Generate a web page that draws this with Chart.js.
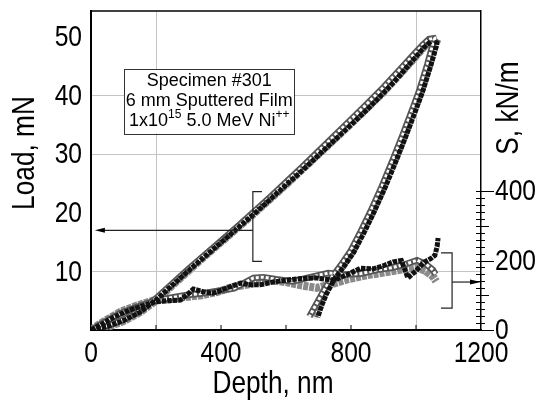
<!DOCTYPE html>
<html>
<head>
<meta charset="utf-8">
<script src="https://cdn.jsdelivr.net/npm/chart.js@4"></script>
<style>
html, body { margin: 0; padding: 0; background: #fff; }
</style>
</head>
<body>
<canvas id="chart" width="543" height="400"></canvas>
<script>
// loading curves (depth nm, load mN) - three overlapping tests
const loadDepthBlack = [0, 20, 50, 100, 150, 200, 250, 300, 350, 400, 450, 500, 550, 600, 650, 700, 750, 800, 850, 900, 950, 1000, 1025, 1045];
const loadForceBlack = [0, 0.2, 0.6, 1.6, 3.0, 5.1, 7.6, 10.1, 12.5, 14.9, 17.3, 19.7, 22.2, 24.7, 27.2, 29.8, 32.4, 35.0, 37.6, 40.4, 43.4, 46.6, 48.2, 49.2];
const loadDepthOpen = [0, 30, 60, 100, 150, 200, 250, 300, 350, 400, 450, 500, 550, 600, 650, 700, 750, 800, 850, 900, 950, 990, 1020, 1040, 1062];
const loadForceOpen = [0, 0.4, 0.9, 1.8, 3.3, 5.4, 7.9, 10.4, 12.8, 15.2, 17.6, 20.1, 22.6, 25.2, 27.8, 30.5, 33.2, 35.9, 38.6, 41.4, 44.4, 46.8, 48.6, 49.6, 49.8];
const loadDepthGray = [0, 25, 60, 100, 150, 200, 250, 300, 350, 400, 450, 500, 550, 600, 650, 700, 750, 800, 850, 900, 950, 1000, 1030, 1050, 1065];
const loadForceGray = [0, 0.2, 0.7, 1.5, 3.0, 5.0, 7.6, 10.1, 12.6, 15.0, 17.4, 19.8, 22.3, 24.8, 27.4, 30.0, 32.6, 35.2, 37.9, 40.6, 43.6, 46.7, 48.6, 49.4, 49.6];

// unloading curves
const unloadDepthBlack = [1065, 1062, 1045, 1020, 1000, 970, 940, 905, 870, 840, 808, 778, 750, 725, 710, 698];
const unloadForceBlack = [49.4, 48.3, 45.0, 40.6, 37.6, 33.2, 29.0, 24.3, 20.0, 16.6, 13.2, 10.8, 8.8, 6.2, 4.2, 2.2];
const unloadDepthOpen = [1058, 1052, 1035, 1010, 990, 960, 930, 895, 860, 830, 798, 768, 740, 712, 692, 672];
const unloadForceOpen = [49.8, 48.8, 45.3, 40.8, 37.8, 33.4, 29.2, 24.5, 20.2, 16.8, 13.4, 11.0, 8.9, 6.3, 4.3, 2.3];
const unloadDepthGray = [1066, 1058, 1040, 1015, 995, 965, 935, 900, 865, 835, 803, 773, 745, 718, 700, 685];
const unloadForceGray = [49.6, 48.5, 45.1, 40.7, 37.7, 33.3, 29.1, 24.4, 20.1, 16.7, 13.3, 10.9, 8.8, 6.2, 4.2, 2.1];

// stiffness curves (depth nm, S kN/m)
const stiffDepthBlack = [0, 30, 70, 120, 160, 195, 230, 275, 300, 315, 345, 375, 410, 460, 490, 520, 560, 605, 645, 690, 720, 750, 790, 830, 868, 900, 930, 955, 975, 1000, 1025, 1045, 1058, 1065, 1068];
const stiffBlack = [0, 15, 37, 58, 70, 81, 84, 86, 105, 118, 110, 106, 118, 135, 130, 130, 138, 144, 148, 150, 146, 144, 160, 178, 176, 185, 196, 200, 150, 170, 195, 205, 215, 240, 265];
const stiffDepthOpen = [0, 40, 90, 140, 190, 240, 290, 340, 390, 440, 470, 500, 530, 570, 620, 675, 730, 780, 830, 880, 930, 970, 1003, 1030, 1052, 1060];
const stiffOpen = [0, 22, 48, 66, 82, 92, 100, 105, 112, 120, 135, 150, 152, 146, 140, 152, 164, 160, 162, 173, 180, 190, 201, 190, 173, 160];
const stiffDepthGray = [0, 40, 90, 140, 190, 240, 290, 340, 390, 437, 490, 542, 600, 650, 695, 740, 790, 851, 900, 951, 1000, 1030, 1053, 1062];
const stiffGray = [0, 25, 52, 70, 84, 88, 95, 100, 110, 124, 132, 144, 138, 128, 121, 132, 146, 158, 165, 173, 180, 170, 153, 140];

const depthTicks = [0, 200, 400, 600, 800, 1000, 1200];
const depthLabels = ["0", "", "400", "", "800", "", "1200"];
const loadTicks = [0, 10, 20, 30, 40, 50];
const loadLabels = ["", "10", "20", "30", "40", "50"];
const stiffTicks = [0, 200, 400];
const stiffLabels = ["0", "200", "400"];
const loadGridLines = [10, 30, 40];
const depthGridLines = [200, 1000];
const sLabelTop = 400;

const specimenLines = ["Specimen #301", "6 mm Sputtered Film"];

const REGULAR = '"Liberation Sans", Arial, sans-serif';
const SQUEEZE = 0.82; // the scan's type is a narrow Helvetica

function pts(xs, ys) {
    return xs.map((v, i) => ({ x: v, y: ys[i] }));
}

function gray(xs, ys, axis) {
    return { data: pts(xs, ys), yAxisID: axis, borderColor: "#8a8a8a", borderWidth: 8, borderDash: [5, 1], order: 4 };
}
function openOutline(xs, ys, axis) {
    return { data: pts(xs, ys), yAxisID: axis, borderColor: "#555", borderWidth: 6.5, order: 3 };
}
function openFill(xs, ys, axis) {
    return { data: pts(xs, ys), yAxisID: axis, borderColor: "#fff", borderWidth: 3, borderDash: [3, 2], order: 2 };
}
function black(xs, ys, axis) {
    return { data: pts(xs, ys), yAxisID: axis, borderColor: "#111", borderWidth: 5, borderDash: [4.5, 1], order: 1 };
}

const datasets = [
    gray(loadDepthGray, loadForceGray, "y"),
    gray(unloadDepthGray, unloadForceGray, "y"),
    gray(stiffDepthGray, stiffGray, "y2"),
    openOutline(loadDepthOpen, loadForceOpen, "y"),
    openOutline(unloadDepthOpen, unloadForceOpen, "y"),
    openOutline(stiffDepthOpen, stiffOpen, "y2"),
    openFill(loadDepthOpen, loadForceOpen, "y"),
    openFill(unloadDepthOpen, unloadForceOpen, "y"),
    openFill(stiffDepthOpen, stiffOpen, "y2"),
    black(loadDepthBlack, loadForceBlack, "y"),
    black(unloadDepthBlack, unloadForceBlack, "y"),
    black(stiffDepthBlack, stiffBlack, "y2"),
];
datasets.forEach((d) => {
    d.showLine = true;
    d.pointRadius = 0;
    d.tension = 0;
    d.fill = false;
});

function line(ctx, x1, y1, x2, y2) {
    ctx.beginPath();
    ctx.moveTo(x1, y1);
    ctx.lineTo(x2, y2);
    ctx.stroke();
}

// narrow text: regular font squeezed horizontally
function narrowText(ctx, text, x, y, align, size, rotate) {
    ctx.save();
    ctx.translate(x, y);
    if (rotate) ctx.rotate(-Math.PI / 2);
    ctx.scale(SQUEEZE, 1);
    ctx.font = size + "px " + REGULAR;
    ctx.textAlign = align;
    ctx.textBaseline = "middle";
    ctx.fillText(text, 0, 0);
    ctx.restore();
}

const decor = {
    id: "decor",
    afterDraw(chart) {
        const { ctx, chartArea: a } = chart;
        const x = chart.scales.x, y = chart.scales.y, y2 = chart.scales.y2;
        ctx.save();
        ctx.strokeStyle = "#000";
        ctx.fillStyle = "#000";

        // top frame
        ctx.lineWidth = 1.5;
        line(ctx, a.left, a.top, a.right, a.top);

        // inner tick marks on depth axis
        ctx.lineWidth = 1;
        depthTicks.forEach((v) => {
            if (v === 0 || v === 1200) return;
            const px = x.getPixelForValue(v);
            line(ctx, px, a.bottom, px, a.bottom - 5);
        });

        // stiffness axis ticks
        const ax = a.right;
        for (let v = 0; v <= sLabelTop; v += 20) {
            const py = Math.round(y2.getPixelForValue(v)) + 0.5;
            let len = 4;
            if (v % 200 === 0) len = 13;
            else if (v % 100 === 0) len = 8;
            line(ctx, ax - 5, py, ax + len, py);
        }

        // tick labels
        depthTicks.forEach((v, i) => narrowText(ctx, depthLabels[i], x.getPixelForValue(v), a.bottom + 24, "center", 30));
        loadTicks.forEach((v, i) => narrowText(ctx, loadLabels[i], a.left - 9, y.getPixelForValue(v) + 1, "right", 30));
        stiffTicks.forEach((v, i) => narrowText(ctx, stiffLabels[i], a.right + 14, y2.getPixelForValue(v) + 1, "left", 30));

        // axis titles
        narrowText(ctx, "Depth, nm", 273, 384, "center", 32);
        narrowText(ctx, "Load, mN", 25, 153, "center", 32, true);
        narrowText(ctx, "S, kN/m", 509, 108, "center", 32, true);

        // left bracket + arrow
        ctx.lineWidth = 1.2;
        ctx.strokeStyle = "#222";
        const bx = x.getPixelForValue(498), btx = x.getPixelForValue(526);
        const bt = y.getPixelForValue(23.6), bb = y.getPixelForValue(11.7);
        ctx.beginPath();
        ctx.moveTo(btx, bt); ctx.lineTo(bx, bt); ctx.lineTo(bx, bb); ctx.lineTo(btx, bb);
        ctx.stroke();
        const ay = y.getPixelForValue(17.0);
        const aEnd = x.getPixelForValue(12);
        line(ctx, bx, ay, aEnd + 8, ay);
        ctx.beginPath();
        ctx.moveTo(aEnd, ay); ctx.lineTo(aEnd + 10, ay - 2.5); ctx.lineTo(aEnd + 10, ay + 2.5); ctx.closePath();
        ctx.fill();

        // right bracket + arrow
        const rx = x.getPixelForValue(1111), rtx = x.getPixelForValue(1077);
        const rt = y2.getPixelForValue(222), rb = y2.getPixelForValue(63);
        ctx.beginPath();
        ctx.moveTo(rtx, rt); ctx.lineTo(rx, rt); ctx.lineTo(rx, rb); ctx.lineTo(rtx, rb);
        ctx.stroke();
        const ry = y2.getPixelForValue(138);
        line(ctx, rx, ry, ax - 8, ry);
        ctx.beginPath();
        ctx.moveTo(ax, ry); ctx.lineTo(ax - 11, ry - 2.5); ctx.lineTo(ax - 11, ry + 2.5); ctx.closePath();
        ctx.fill();

        // specimen box
        const bxl = x.getPixelForValue(102), bxr = x.getPixelForValue(626);
        const byt = y.getPixelForValue(44.5), byb = y.getPixelForValue(33.5);
        ctx.fillStyle = "#fff";
        ctx.fillRect(bxl, byt, bxr - bxl, byb - byt);
        ctx.strokeStyle = "#333";
        ctx.lineWidth = 1;
        ctx.strokeRect(Math.round(bxl) + 0.5, Math.round(byt) + 0.5, Math.round(bxr - bxl), Math.round(byb - byt));
        ctx.fillStyle = "#000";
        ctx.textAlign = "center";
        ctx.textBaseline = "middle";
        ctx.font = "18px " + REGULAR;
        const cx = (bxl + bxr) / 2;
        ctx.fillText(specimenLines[0], cx, byt + 12);
        ctx.fillText(specimenLines[1], cx, byt + 32);
        // third line with superscripts
        const parts = [["1x10", 18, 0], ["15", 12, -6], [" 5.0 MeV Ni", 18, 0], ["++", 12, -6]];
        ctx.textAlign = "left";
        let total = 0;
        parts.forEach((p) => {
            ctx.font = p[1] + "px " + REGULAR;
            total += ctx.measureText(p[0]).width;
        });
        let tx = cx - total / 2;
        parts.forEach((p) => {
            ctx.font = p[1] + "px " + REGULAR;
            ctx.fillText(p[0], tx, byt + 52 + p[2]);
            tx += ctx.measureText(p[0]).width;
        });

        ctx.restore();
    },
};

function noPad(s) {
    s.paddingTop = 0;
    s.paddingBottom = 0;
    s.paddingLeft = 0;
    s.paddingRight = 0;
}

new Chart(document.getElementById("chart").getContext("2d"), {
    type: "scatter",
    data: { datasets: datasets },
    plugins: [decor],
    options: {
        responsive: false,
        animation: false,
        layout: { padding: { top: 11, left: 0, right: 0, bottom: 0 } },
        plugins: { legend: { display: false }, tooltip: { enabled: false } },
        scales: {
            x: {
                type: "linear",
                min: 0,
                max: 1200,
                afterBuildTicks: (s) => { s.ticks = depthTicks.map((v) => ({ value: v })); },
                ticks: { display: false },
                grid: {
                    drawTicks: false,
                    lineWidth: 1,
                    color: (c) => (c.tick && depthGridLines.includes(c.tick.value) ? "#c4c4c4" : "rgba(0,0,0,0)"),
                },
                border: { color: "#000", width: 2 },
                afterFit: (s) => { s.height = 70; noPad(s); },
            },
            y: {
                position: "left",
                min: 0,
                max: 54.4,
                afterBuildTicks: (s) => { s.ticks = loadTicks.map((v) => ({ value: v })); },
                ticks: { display: false },
                grid: {
                    drawTicks: false,
                    lineWidth: 1,
                    color: (c) => (c.tick && loadGridLines.includes(c.tick.value) ? "#c4c4c4" : "rgba(0,0,0,0)"),
                },
                border: { color: "#000", width: 2 },
                afterFit: (s) => { s.width = 91; noPad(s); },
            },
            y2: {
                position: "right",
                min: 0,
                max: 918,
                afterBuildTicks: (s) => { s.ticks = stiffTicks.map((v) => ({ value: v })); },
                ticks: { display: false },
                grid: { display: false, drawTicks: false },
                border: { display: true, color: "#000", width: 1.5 },
                afterFit: (s) => { s.width = 62; noPad(s); },
            },
        },
    },
});
</script>
</body>
</html>
